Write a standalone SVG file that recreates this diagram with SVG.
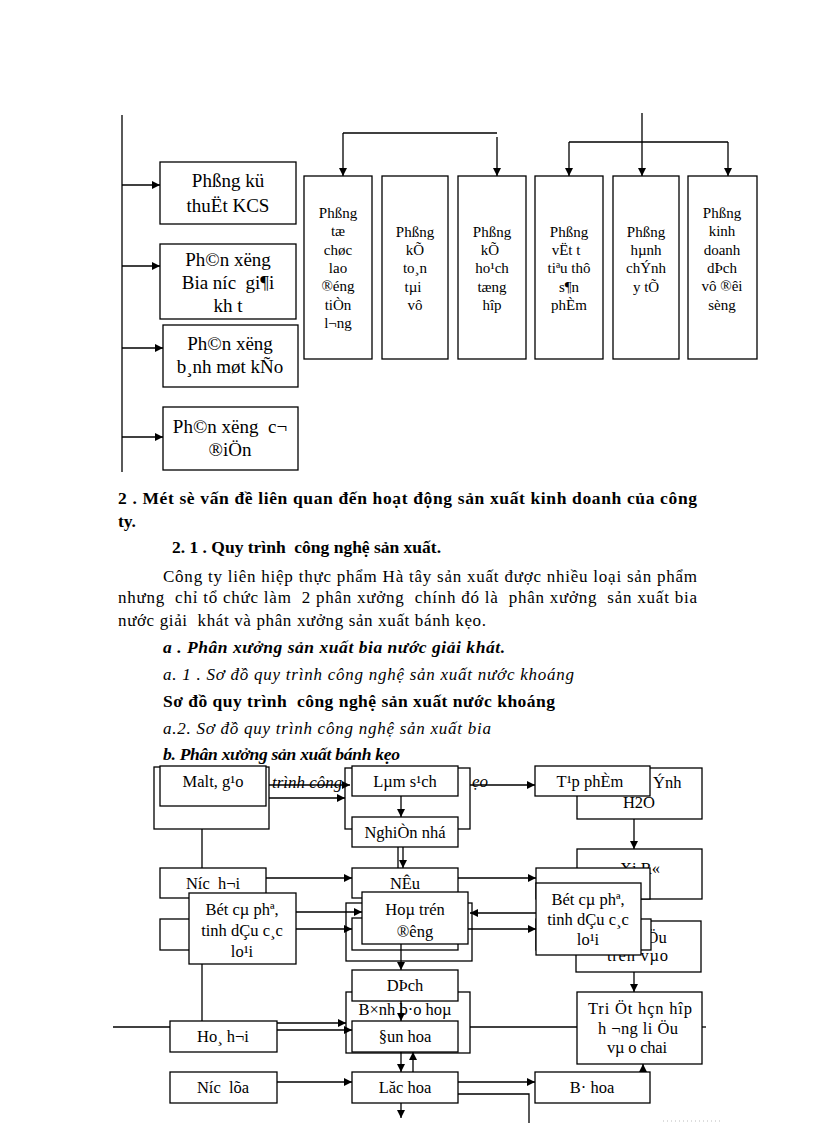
<svg xmlns="http://www.w3.org/2000/svg" width="816" height="1123" viewBox="0 0 816 1123">
<defs>
<marker id="ah" viewBox="0 0 10 10" refX="10" refY="5" markerWidth="8" markerHeight="8" orient="auto" markerUnits="userSpaceOnUse"><path d="M0,0 L10,5 L0,10 z" fill="#000"/></marker>
<style>
.bx{fill:#fff;stroke:#000;stroke-width:1.3}
.ln{fill:none;stroke:#000;stroke-width:1.3}
.ar{fill:none;stroke:#000;stroke-width:1.3;marker-end:url(#ah)}
text{font-family:"Liberation Serif","Times New Roman",serif;fill:#000}
.t19{font-size:19px;text-anchor:middle}
.t15{font-size:15px;text-anchor:middle}
.t16{font-size:16.5px;text-anchor:middle}
.body{font-size:17px}
.hb{font-size:17.5px;font-weight:bold}
.bi{font-size:17.5px;font-weight:bold;font-style:italic}
.it{font-size:17px;font-style:italic}
</style>
</defs>
<rect width="816" height="1123" fill="#fff"/>

<!-- Top organisation chart -->
<g id="top-connectors">
<path class="ln" d="M122,115 V472"/>
<path class="ar" d="M122,185 H160"/>
<path class="ar" d="M122,266 H160"/>
<path class="ar" d="M122,348 H163"/>
<path class="ar" d="M122,437 H163"/>
<path class="ln" d="M343,133 H497"/>
<path class="ar" d="M343,133 V176"/>
<path class="ar" d="M497,137 V176"/>
<path class="ar" d="M642,113 V176"/>
<path class="ln" d="M569,142 H728"/>
<path class="ar" d="M569,142 V176"/>
<path class="ar" d="M728,142 V176"/>
</g>
<g id="n-kcs"><rect class="bx" x="160" y="162" width="136" height="62"/><text class="t19" x="228" y="187">Phßng kü</text><text class="t19" x="228" y="212">thuËt KCS</text></g>
<g id="n-bia"><rect class="bx" x="160" y="244" width="136" height="75"/><text class="t19" x="228" y="266">Ph©n xëng</text><text class="t19" x="228" y="289" xml:space="preserve">Bia níc  gi¶i</text><text class="t19" x="228" y="312">kh t</text></g>
<g id="n-banh"><rect class="bx" x="163" y="325" width="135" height="62"/><text class="t19" x="230" y="350">Ph©n xëng</text><text class="t19" x="230" y="373">b¸nh møt kÑo</text></g>
<g id="n-codien"><rect class="bx" x="163" y="407" width="135" height="63"/><text class="t19" x="230" y="433" xml:space="preserve">Ph©n xëng  c¬</text><text class="t19" x="230" y="456">®iÖn</text></g>

<g id="n-p1"><rect class="bx" x="304" y="176" width="68" height="183"/>
<text class="t15" x="338" y="218">Phßng</text><text class="t15" x="338" y="236">tæ</text><text class="t15" x="338" y="255">chøc</text><text class="t15" x="338" y="273">lao</text><text class="t15" x="338" y="291">®éng</text><text class="t15" x="338" y="310">tiÒn</text><text class="t15" x="338" y="328">l¬ng</text></g>
<g id="n-p2"><rect class="bx" x="382" y="176" width="66" height="183"/>
<text class="t15" x="415" y="237">Phßng</text><text class="t15" x="415" y="255">kÕ</text><text class="t15" x="415" y="273">to¸n</text><text class="t15" x="413" y="292">tµi</text><text class="t15" x="415" y="310">vô</text></g>
<g id="n-p3"><rect class="bx" x="458" y="176" width="68" height="183"/>
<text class="t15" x="492" y="237">Phßng</text><text class="t15" x="490" y="255">kÕ</text><text class="t15" x="492" y="273">ho¹ch</text><text class="t15" x="492" y="292">tæng</text><text class="t15" x="492" y="310">hîp</text></g>
<g id="n-p4"><rect class="bx" x="535" y="176" width="68" height="183"/>
<text class="t15" x="569" y="237">Phßng</text><text class="t15" x="566" y="255">vËt t</text><text class="t15" x="569" y="273">tiªu thô</text><text class="t15" x="569" y="292">s¶n</text><text class="t15" x="569" y="310">phÈm</text></g>
<g id="n-p5"><rect class="bx" x="613" y="176" width="66" height="183"/>
<text class="t15" x="646" y="237">Phßng</text><text class="t15" x="646" y="255">hµnh</text><text class="t15" x="646" y="273">chÝnh</text><text class="t15" x="646" y="292">y tÕ</text></g>
<g id="n-p6"><rect class="bx" x="688" y="176" width="69" height="183"/>
<text class="t15" x="722" y="218">Phßng</text><text class="t15" x="722" y="236">kinh</text><text class="t15" x="722" y="255">doanh</text><text class="t15" x="722" y="273">dÞch</text><text class="t15" x="722" y="291">vô ®êi</text><text class="t15" x="722" y="310">sèng</text></g>

<!-- Body text -->
<g id="body-text">
<text class="hb" x="118" y="504" textLength="579" lengthAdjust="spacing">2 . Mét sè vấn đề liên quan đến hoạt động sản xuất kinh doanh của công</text>
<text class="hb" x="118" y="527">ty.</text>
<text class="hb" x="172" y="553" textLength="269" lengthAdjust="spacing" xml:space="preserve">2. 1 . Quy trình  công nghệ sản xuất.</text>
<text class="body" x="163" y="582" textLength="534" lengthAdjust="spacing">Công ty liên hiệp thực phẩm Hà tây sản xuất được nhiều loại sản phẩm</text>
<text class="body" x="118" y="603" textLength="579" lengthAdjust="spacing" xml:space="preserve">nhưng  chỉ tổ chức làm  2 phân xưởng  chính đó là  phân xưởng  sản xuất bia</text>
<text class="body" x="118" y="626" textLength="368" lengthAdjust="spacing" xml:space="preserve">nước giải  khát và phân xưởng sản xuất bánh kẹo.</text>
<text class="bi" x="163" y="653" textLength="342" lengthAdjust="spacing">a . Phân xưởng sản xuất bia nước giải khát.</text>
<text class="it" x="163" y="680" textLength="411" lengthAdjust="spacing">a. 1 . Sơ đồ quy trình công nghệ sản xuất nước khoáng</text>
<text class="hb" x="163" y="707" textLength="392" lengthAdjust="spacing" xml:space="preserve">Sơ đồ quy trình  công nghệ sản xuất nước khoáng</text>
<text class="it" x="163" y="734" textLength="328" lengthAdjust="spacing">a.2. Sơ đồ quy trình công nghệ sản xuất bia</text>
<text class="bi" x="163" y="760" textLength="237" lengthAdjust="spacing">b. Phân xưởng sản xuất bánh kẹo</text>
<text class="it" x="272" y="788">trình công</text>
<text class="it" x="472" y="787">ẹo</text>
</g>

<!-- Bottom flow: background boxes -->
<g id="bg-boxes">
<rect class="bx" x="154" y="767" width="115" height="62" style="fill:none"/>
<rect class="bx" x="345" y="768" width="125" height="61" style="fill:none"/>
<g id="n-h2o"><rect class="bx" x="577" y="768" width="125" height="51"/><text class="t16" x="653" y="788" style="text-anchor:start">Ýnh</text><text class="t16" x="639" y="808">H2O</text></g>
<g id="n-xiro"><rect class="bx" x="577" y="849" width="125" height="50"/><text class="t16" x="640" y="874">Xi R«</text></g>
<g id="n-tronvao"><rect class="bx" x="576" y="921" width="125" height="51"/><text class="t16" x="642" y="943" style="text-anchor:start">iÖu</text><text class="t16" x="607" y="961" style="text-anchor:start" textLength="61" lengthAdjust="spacing">trén vµo</text></g>
<rect class="bx" x="536" y="919" width="115" height="31"/>
<rect class="bx" x="160" y="919" width="60" height="31"/>
<rect class="bx" x="346" y="903" width="126" height="58" style="fill:none"/>
<rect class="bx" x="352" y="918" width="106" height="32"/>
<g id="n-binh"><rect class="bx" x="346" y="992" width="124" height="61"/><text class="t16" x="405" y="1015">B×nh b·o hoµ</text></g>
</g>

<!-- Connectors -->
<g id="connectors">
<path class="ar" d="M269,785 H350"/>
<path class="ar" d="M269,798 H345"/>
<path class="ln" d="M202,829 V868"/>
<path class="ar" d="M401,796 V817"/>
<path class="ln" d="M398,847 V868"/>
<path class="ar" d="M403,847 V868"/>
<path class="ar" d="M266,878 H352"/>
<path class="ar" d="M296,912 H362"/>
<path class="ar" d="M296,929 H352"/>
<path class="ln" d="M202,964 V1021"/>
<path class="ln" d="M113,1027 H170"/>
<path class="ar" d="M277,1023 H346"/>
<path class="ar" d="M277,1030 H352"/>
<path class="ar" d="M277,1082 H352"/>
<path class="ar" d="M401,944 V970"/>
<path class="ar" d="M401,1001 V1021"/>
<path class="ar" d="M401,1052 V1072"/>
<path class="ar" d="M413,1072 V1052"/>
<path class="ar" d="M401,1103 V1118"/>
<path class="ar" d="M458,1082 H535"/>
<path class="ln" d="M458,1094 H529 V1123"/>
<path class="ln" d="M470,1027 H577"/>
<path class="ln" d="M702,1027 H706"/>
<path class="ar" d="M643,1072 V1064"/>
<path class="ar" d="M470,785 H535"/>
<path class="ar" d="M634,819 V849"/>
<path class="ar" d="M458,878 H536"/>
<path class="ar" d="M536,913 H470"/>
<path class="ar" d="M468,929 H536"/>
<path class="ar" d="M634,972 V992"/>
<path d="M663,1121 H720" stroke="#bbb" stroke-width="1" stroke-dasharray="1 3"/>
</g>

<!-- Bottom flow: front nodes -->
<g id="n-malt"><rect class="bx" x="160" y="766" width="106" height="40"/><text class="t16" x="213" y="787">Malt, g¹o</text></g>
<g id="n-lamsach"><rect class="bx" x="352" y="766" width="106" height="30"/><text class="t16" x="405" y="787">Lµm s¹ch</text></g>
<g id="n-nghien"><rect class="bx" x="352" y="817" width="106" height="30"/><text class="t16" x="405" y="838">NghiÒn nhá</text></g>
<g id="n-nuoc-hoi"><rect class="bx" x="160" y="868" width="106" height="30"/><text class="t16" x="213" y="889" xml:space="preserve">Níc  h¬i</text></g>
<g id="n-nau"><rect class="bx" x="352" y="868" width="106" height="30"/><text class="t16" x="405" y="889">NÊu</text></g>
<g id="n-nuoc2"><rect class="bx" x="536" y="868" width="114" height="31"/></g>
<g id="n-taphpham"><rect class="bx" x="535" y="766" width="115" height="30"/><text class="t16" x="590" y="787">T¹p phÈm</text></g>
<g id="n-bot-l"><rect class="bx" x="189" y="893" width="107" height="71"/><text class="t16" x="242" y="915">Bét cµ phª,</text><text class="t16" x="242" y="936">tinh dÇu c¸c</text><text class="t16" x="242" y="957">lo¹i</text></g>
<g id="n-hoatron"><rect class="bx" x="362" y="892" width="106" height="52"/><text class="t16" x="415" y="915">Hoµ trén</text><text class="t16" x="415" y="937">®êng</text></g>
<g id="n-bot-r"><rect class="bx" x="536" y="883" width="105" height="72"/><text class="t16" x="588" y="905">Bét cµ phª,</text><text class="t16" x="588" y="925">tinh dÇu c¸c</text><text class="t16" x="588" y="945">lo¹i</text></g>
<g id="n-dich"><rect class="bx" x="352" y="970" width="106" height="31"/><text class="t16" x="405" y="991">DÞch</text></g>
<g id="n-dunhoa"><rect class="bx" x="352" y="1021" width="106" height="31"/><text class="t16" x="405" y="1042">§un hoa</text></g>
<g id="n-hoahoi"><rect class="bx" x="170" y="1021" width="107" height="31"/><text class="t16" x="223" y="1042">Ho¸ h¬i</text></g>
<g id="n-nuocloa"><rect class="bx" x="170" y="1072" width="107" height="31"/><text class="t16" x="223" y="1093" xml:space="preserve">Níc  lõa</text></g>
<g id="n-lachoa"><rect class="bx" x="352" y="1072" width="106" height="31"/><text class="t16" x="405" y="1093">Lăc hoa</text></g>
<g id="n-bahoa"><rect class="bx" x="535" y="1072" width="115" height="31"/><text class="t16" x="592" y="1093">B· hoa</text></g>
<g id="n-triet"><rect class="bx" x="577" y="992" width="125" height="72"/><text class="t16" x="640" y="1014" textLength="104" lengthAdjust="spacing">Tri Öt hçn hîp</text><text class="t16" x="638" y="1034" textLength="80" lengthAdjust="spacing" xml:space="preserve">h ¬ng li Öu</text><text class="t16" x="637" y="1053" textLength="60" lengthAdjust="spacing">vµ o chai</text></g>
</svg>
